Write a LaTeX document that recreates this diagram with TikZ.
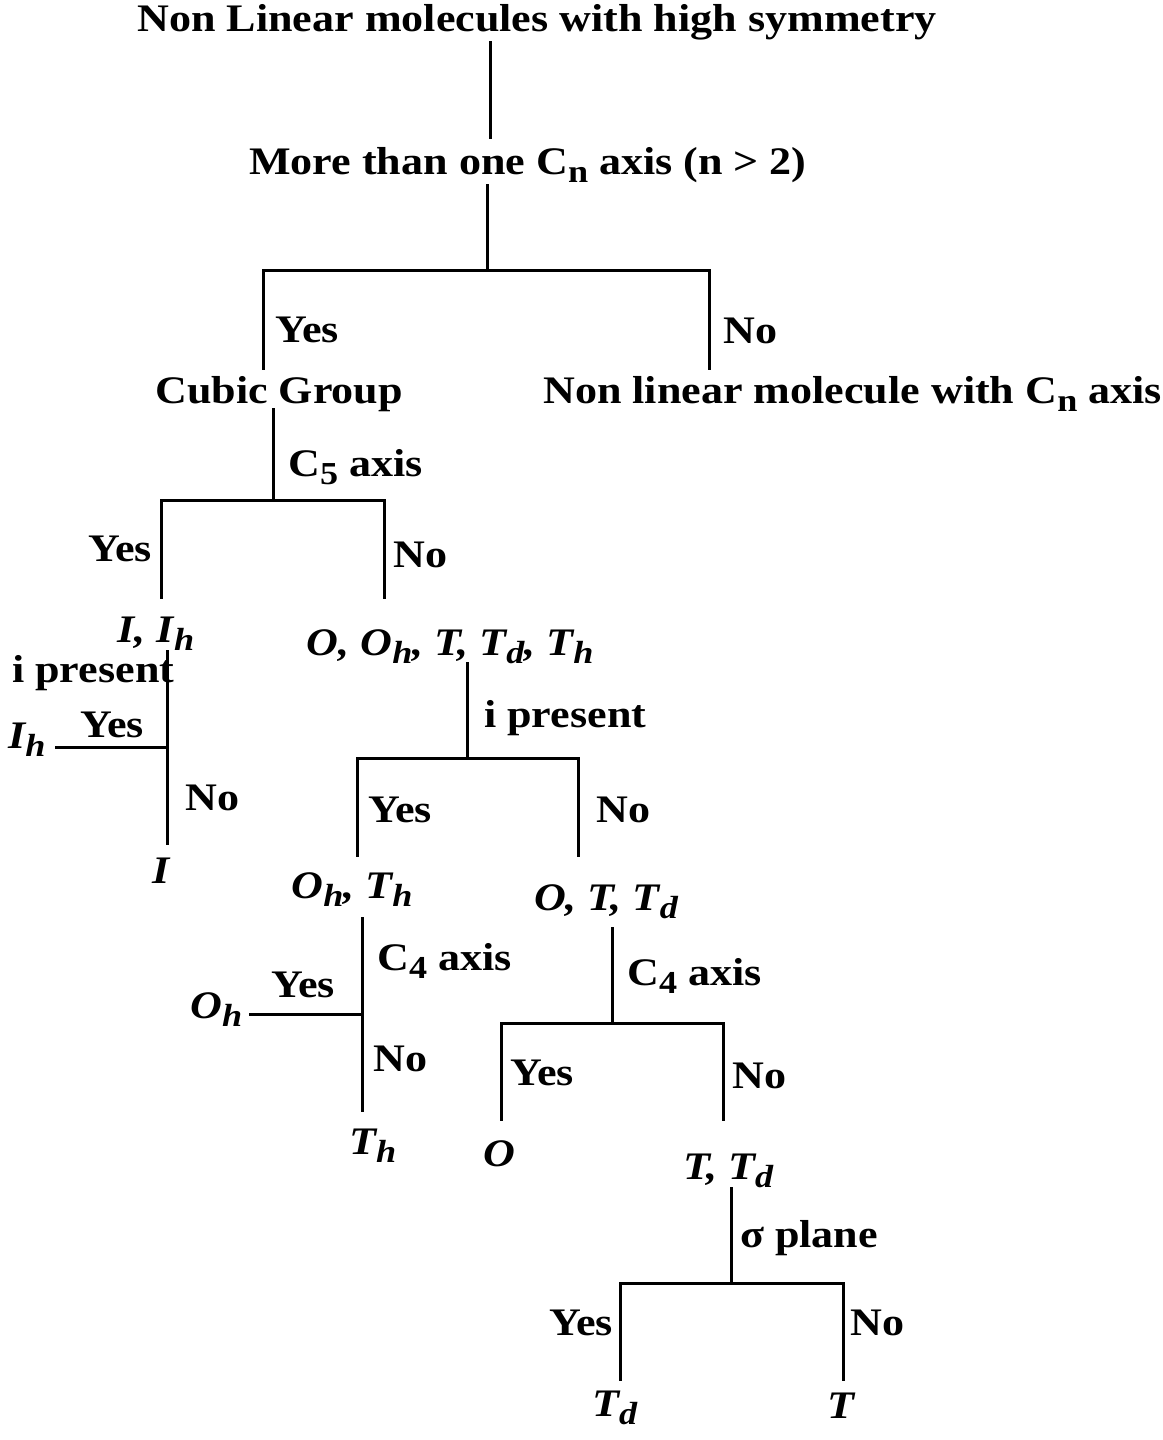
\documentclass[tikz,border=0pt]{standalone}
\usepackage{fontspec}
\setmainfont[FakeStretch=1.13]{Liberation Serif}
\newcommand\subs[1]{\raisebox{-8pt}{\fontsize{32}{34}\selectfont #1}}
\begin{document}
\begin{tikzpicture}[x=1pt,y=-1pt,
  txt/.style={inner sep=0pt, anchor=base west, font=\bfseries\fontsize{39}{45}\selectfont},
  grp/.style={inner sep=0pt, anchor=base, font=\bfseries\itshape\fontsize{39}{45}\selectfont},
  ctr/.style={inner sep=0pt, anchor=base, font=\bfseries\fontsize{39}{45}\selectfont},
  br/.style={line width=3pt, line cap=rect}]
\useasboundingbox (0,0) rectangle (1162,1440);
\fill[white] (0,0) rectangle (1162,1440);

% headings
\node[ctr] (title) at (537,31) {Non Linear molecules with high symmetry};
\node[ctr] (more) at (528,174) {More than one C\subs{n} axis (n > 2)};
\node[txt] (yes1) at (275,342) {Yes};
\node[txt] (no1) at (723,343) {No};
\node[txt] (cubic) at (155,403) {Cubic Group};
\node[txt] (nonlin) at (543,403) {Non linear molecule with C\subs{n} axis};
\node[txt] (c5) at (288,476) {C\subs{5} axis};
\node[txt, anchor=base east] (yes2) at (152,561) {Yes};
\node[txt] (no2) at (393,567) {No};
\node[grp] (iih) at (156,642) {I, I\subs{h}};
\node[grp] (ooh) at (450,655) {O, O\subs{h}, T, T\subs{d}, T\subs{h}};

% I branch
\node[txt] (ip1) at (12,682) {i present};
\node[txt] (yes3) at (80,737) {Yes};
\node[grp, anchor=base west] (ih) at (8,748) {I\subs{h}};
\node[txt] (no3) at (185,810) {No};
\node[grp] (i) at (161,883) {I};

% O/T branch
\node[txt] (ip2) at (484,727) {i present};
\node[txt] (yes4) at (368,822) {Yes};
\node[txt] (no4) at (596,822) {No};
\node[grp] (ohth) at (352,898) {O\subs{h}, T\subs{h}};
\node[grp] (ottd) at (606,910) {O, T, T\subs{d}};

% Oh/Th
\node[txt] (c4a) at (377,970) {C\subs{4} axis};
\node[grp, anchor=base west] (oh) at (190,1018) {O\subs{h}};
\node[txt] (yes5) at (271,997) {Yes};
\node[txt] (no5) at (373,1071) {No};
\node[grp, anchor=base west] (th) at (349,1154) {T\subs{h}};

% O,T,Td
\node[txt] (c4b) at (627,985) {C\subs{4} axis};
\node[txt] (yes6) at (510,1085) {Yes};
\node[txt] (no6) at (732,1088) {No};
\node[grp, anchor=base west] (o) at (483,1166) {O};
\node[grp, anchor=base west] (ttd) at (683,1179) {T, T\subs{d}};

% T,Td
\node[txt] (sig) at (740,1247) {σ plane};
\node[txt, anchor=base east] (yes7) at (613,1335) {Yes};
\node[txt] (no7) at (850,1335) {No};
\node[grp, anchor=base west] (td) at (592,1416) {T\subs{d}};
\node[grp, anchor=base west] (t) at (827,1418) {T};

% coordinates for branches
\coordinate (a1) at (490,42);  \coordinate (a2) at (490,137);
\coordinate (b1) at (487,185); \coordinate (b2) at (487,270);
\coordinate (bl) at (263,270); \coordinate (br) at (709,270);
\coordinate (bl2) at (263,368); \coordinate (br2) at (709,368);
\coordinate (c1) at (273,409); \coordinate (c2) at (273,500);
\coordinate (cl) at (161,500); \coordinate (cr) at (384,500);
\coordinate (cl2) at (161,597); \coordinate (cr2) at (384,597);
\coordinate (d1) at (167,651); \coordinate (d2) at (167,843);
\coordinate (dm) at (167,747); \coordinate (dl) at (56,747);
\coordinate (e1) at (467,663); \coordinate (e2) at (467,758);
\coordinate (el) at (357,758); \coordinate (er) at (578,758);
\coordinate (el2) at (357,855); \coordinate (er2) at (578,855);
\coordinate (f1) at (362,918); \coordinate (f2) at (362,1110);
\coordinate (fm) at (362,1014); \coordinate (fl) at (250,1014);
\coordinate (g1) at (612,928); \coordinate (g2) at (612,1023);
\coordinate (gl) at (501,1023); \coordinate (gr) at (723,1023);
\coordinate (gl2) at (501,1119); \coordinate (gr2) at (723,1119);
\coordinate (h1) at (731,1188); \coordinate (h2) at (731,1283);
\coordinate (hl) at (620,1283); \coordinate (hr) at (843,1283);
\coordinate (hl2) at (620,1379); \coordinate (hr2) at (843,1379);

\draw[br] (a1) -- (a2);
\draw[br] (b1) -- (b2);
\draw[br] (bl2) -- (bl) -- (br) -- (br2);
\draw[br] (c1) -- (c2);
\draw[br] (cl2) -- (cl) -- (cr) -- (cr2);
\draw[br] (d1) -- (d2);
\draw[br] (dm) -- (dl);
\draw[br] (e1) -- (e2);
\draw[br] (el2) -- (el) -- (er) -- (er2);
\draw[br] (f1) -- (f2);
\draw[br] (fm) -- (fl);
\draw[br] (g1) -- (g2);
\draw[br] (gl2) -- (gl) -- (gr) -- (gr2);
\draw[br] (h1) -- (h2);
\draw[br] (hl2) -- (hl) -- (hr) -- (hr2);
\end{tikzpicture}
\end{document}
